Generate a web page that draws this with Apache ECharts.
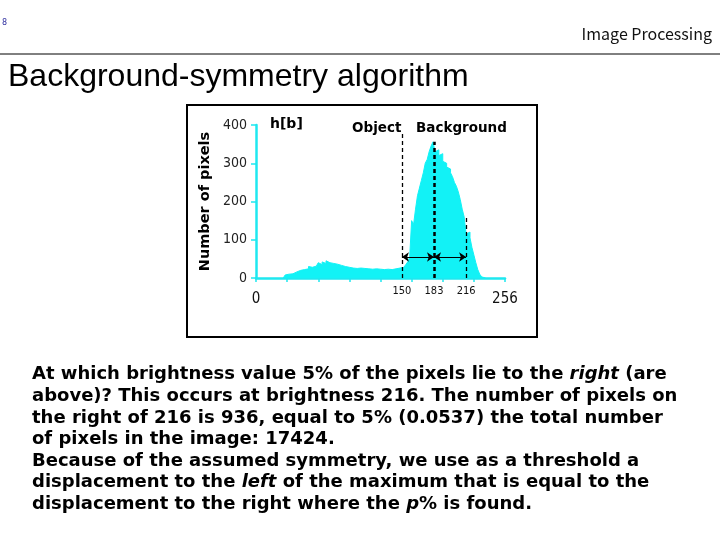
<!DOCTYPE html>
<html>
<head>
<meta charset="utf-8">
<script src="https://cdn.jsdelivr.net/npm/echarts@6/dist/echarts.min.js"></script>
<style>
html,body{margin:0;padding:0;background:#fff;}
#chart{width:720px;height:540px;}
</style>
</head>
<body>
<div id="chart"></div>
<script>
// ---- data ----
const brightness = [
  28,30,32,34,36,38,40,42,44,46,
  48,50,52,54,56,58,60,62,64,66,
  68,70,72,74,76,78,80,82,84,86,
  88,90,92,94,96,98,100,102,104,106,
  108,110,112,114,116,118,120,122,124,126,
  128,130,132,134,136,138,140,142,144,146,
  148,150,152,154,156,158,160,162,164,166,
  168,170,172,174,176,178,180,182,184,186,
  188,190,192,194,196,198,200,202,204,206,
  208,210,212,214,216,218,220,222,224,226,
  228,230,232,234,236
];
const pixelCounts = [
  0,8,10,12,11,14,16,15,20,18,
  22,26,24,30,28,33,31,36,40,35,
  42,38,45,40,44,38,40,36,38,33,
  35,30,32,28,30,26,28,25,24,26,
  23,25,22,24,21,23,22,24,21,23,
  20,22,21,23,20,22,21,24,22,26,
  25,28,30,35,42,55,150,140,180,215,
  235,255,275,300,310,330,345,356,330,335,
  320,325,305,300,290,285,275,265,250,240,
  225,205,180,160,115,120,105,80,60,40,
  22,10,3,0,0
];
const yTicks = [0, 100, 200, 300, 400];
const xEnds = [0, 256];
const thresholdValues = [150, 183, 216];   // object/background boundary, maximum, 5% point
const thresholdTops = [380, 356, 165];     // heights of the dashed markers
const arrowLevel = 55;
const yAxisTitle = 'Number of pixels';
const histLabel = 'h[b]';
const objectLabel = 'Object';
const backgroundLabel = 'Background';
const headerText = 'Image Processing';
const slideTitle = 'Background-symmetry algorithm';
const pageNumber = '8';
const bodyLines = [
  'At which brightness value 5% of the pixels lie to the {i|right} (are',
  'above)? This occurs at brightness 216. The number of pixels on',
  'the right of 216 is 936, equal to 5% (0.0537) the total number',
  'of pixels in the image: 17424.',
  'Because of the assumed symmetry, we use as a threshold a',
  'displacement to the {i|left} of the maximum that is equal to the',
  'displacement to the right where the {i|p}% is found.'
];

// ---- chart ----
const cyan = '#1ee8f0';
const fill = '#12f2f6';
const narrow = "'Liberation Sans Narrow','DejaVu Sans Condensed','Liberation Sans',sans-serif";
const chart = echarts.init(document.getElementById('chart'));

const histData = brightness.map((b, i) => [b, pixelCounts[i]]);
const markers = thresholdValues.map((v, i) => ([
  {coord: [v, 0], lineStyle: {width: i === 1 ? 2.5 : 1.3, type: [4, 3], color: '#000'}},
  {coord: [v, thresholdTops[i]]}
]));
const arrows = [
  [{coord: [thresholdValues[0], arrowLevel]}, {coord: [thresholdValues[1], arrowLevel]}],
  [{coord: [thresholdValues[1], arrowLevel]}, {coord: [thresholdValues[2], arrowLevel]}]
];

const xLabelValues = xEnds.concat(thresholdValues);

chart.setOption({
  animation: false,
  backgroundColor: '#fff',
  grid: {left: 256, top: 125, width: 249, height: 153, containLabel: false},
  xAxis: {
    type: 'value', min: 0, max: 256, interval: 32,
    axisLine: {show: true, lineStyle: {color: cyan, width: 2.5}},
    axisTick: {show: true, length: 4, lineStyle: {color: cyan, width: 1.5}},
    splitLine: {show: false},
    axisLabel: {
      customValues: xLabelValues,
      margin: 8,
      formatter: v => (xEnds.indexOf(v) >= 0 ? '{b|' + v + '}' : '{s|' + v + '}'),
      rich: {
        b: {fontFamily: narrow, fontSize: 15, color: '#111', padding: [6, 0, 0, 0]},
        s: {fontFamily: narrow, fontSize: 11, color: '#111'}
      }
    }
  },
  yAxis: {
    type: 'value', min: 0, max: 400, interval: 100,
    name: yAxisTitle, nameLocation: 'middle', nameGap: 43, nameRotate: 90,
    nameTextStyle: {fontFamily: "'DejaVu Sans'", fontWeight: 'bold', fontSize: 14.5, color: '#000'},
    axisLine: {show: true, lineStyle: {color: cyan, width: 2.5}},
    axisTick: {show: true, length: 5, lineStyle: {color: cyan, width: 1.5}},
    splitLine: {show: false},
    axisLabel: {fontFamily: narrow, fontSize: 14, color: '#222', margin: 9}
  },
  series: [{
    type: 'line',
    step: 'end',
    data: histData,
    showSymbol: false,
    lineStyle: {color: fill, width: 1},
    areaStyle: {color: fill, opacity: 1},
    markLine: {
      silent: true,
      symbol: ['none', 'none'],
      label: {show: false},
      data: markers.concat(arrows.map(a => ([
        {coord: a[0].coord, symbol: 'arrow', symbolSize: 7, lineStyle: {type: 'solid', color: '#000', width: 1.2}},
        {coord: a[1].coord, symbol: 'arrow', symbolSize: 7}
      ])))
    }
  }],
  graphic: [
    {type: 'text', left: 2, top: 19, style: {text: pageNumber, fontSize: 8, fill: '#3030a0', fontFamily: 'DejaVu Sans'}},
    {type: 'text', right: 8, top: 26, style: {text: headerText, fontSize: 16, fill: '#111', fontFamily: "'Noto Sans CJK JP'"}},
    {type: 'line', shape: {x1: 0, y1: 54, x2: 720, y2: 54}, style: {stroke: '#000', lineWidth: 1}},
    {type: 'text', left: 8, top: 61, style: {text: slideTitle, fontSize: 32, fill: '#000', fontFamily: "'Liberation Sans'"}},
    {type: 'rect', shape: {x: 187, y: 105, width: 350, height: 232}, style: {fill: 'none', stroke: '#000', lineWidth: 2}, z: 10},
    {type: 'text', left: 270, top: 117, style: {text: histLabel, fontSize: 14, fontWeight: 'bold', fill: '#000', fontFamily: "'DejaVu Sans'"}},
    {type: 'text', left: 352, top: 121, style: {text: objectLabel, fontSize: 13.5, fontWeight: 'bold', fill: '#000', fontFamily: "'DejaVu Sans'"}},
    {type: 'text', left: 416, top: 121, style: {text: backgroundLabel, fontSize: 13.5, fontWeight: 'bold', fill: '#000', fontFamily: "'DejaVu Sans'"}},
    {type: 'text', left: 32, top: 364, style: {
      text: bodyLines.join('\n'),
      fontSize: 18, fontWeight: 'bold', fill: '#000', fontFamily: "'DejaVu Sans'", lineHeight: 21.6,
      rich: {i: {fontStyle: 'italic', fontWeight: 'bold', fontSize: 18, fontFamily: "'DejaVu Sans'", lineHeight: 21.6}}
    }}
  ]
});
</script>
</body>
</html>
